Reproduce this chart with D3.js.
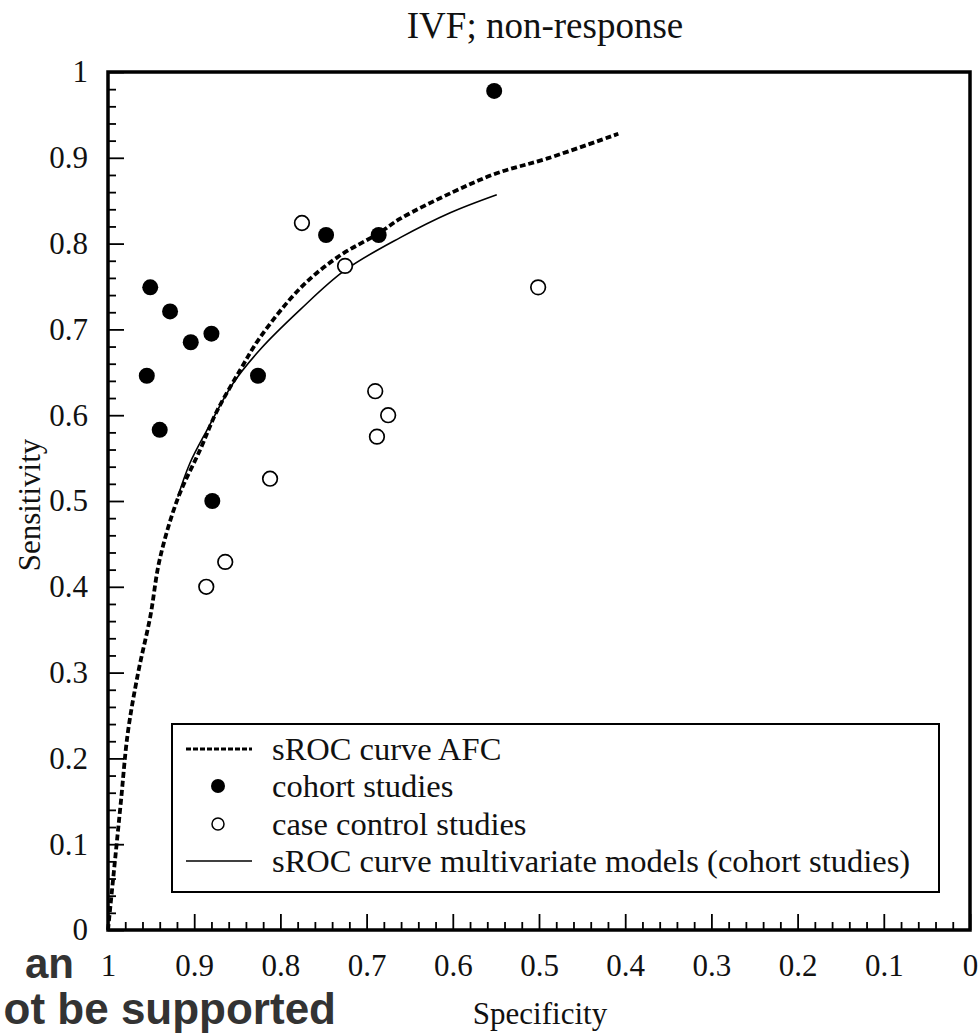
<!DOCTYPE html>
<html><head><meta charset="utf-8">
<script src="https://cdn.jsdelivr.net/npm/d3@7"></script>
<style>html,body{margin:0;padding:0;background:#fff;}svg{display:block;}</style>
</head><body>
<svg id="c" width="979" height="1035"></svg>
<script>
// ---- data ----
const majorTicks = [0, 0.1, 0.2, 0.3, 0.4, 0.5, 0.6, 0.7, 0.8, 0.9, 1];
const tickLabels = ["0", "0.1", "0.2", "0.3", "0.4", "0.5", "0.6", "0.7", "0.8", "0.9", "1"];
const minorTicks = [0.02,0.04,0.06,0.08,0.12,0.14,0.16,0.18,0.22,0.24,0.26,0.28,0.32,0.34,0.36,0.38,0.42,0.44,0.46,0.48,0.52,0.54,0.56,0.58,0.62,0.64,0.66,0.68,0.72,0.74,0.76,0.78,0.82,0.84,0.86,0.88,0.92,0.94,0.96,0.98];

const cohortSpec = [0.552, 0.747, 0.686, 0.951, 0.928, 0.904, 0.880, 0.955, 0.826, 0.940, 0.879];
const cohortSens = [0.978, 0.810, 0.810, 0.749, 0.721, 0.685, 0.695, 0.646, 0.646, 0.583, 0.500];

const caseSpec = [0.775, 0.725, 0.690, 0.675, 0.688, 0.501, 0.812, 0.864, 0.886];
const caseSens = [0.824, 0.774, 0.628, 0.600, 0.575, 0.749, 0.526, 0.429, 0.400];

const afcSpec = [1.000, 0.997, 0.991, 0.985, 0.977, 0.965, 0.951, 0.940, 0.919, 0.893, 0.874, 0.847, 0.824, 0.777, 0.734, 0.686, 0.661, 0.600, 0.549, 0.491, 0.408];
const afcSens = [0.000, 0.030, 0.090, 0.150, 0.230, 0.300, 0.365, 0.432, 0.503, 0.560, 0.604, 0.652, 0.690, 0.748, 0.784, 0.812, 0.829, 0.860, 0.882, 0.899, 0.928];

const mvSpec = [0.919, 0.905, 0.885, 0.855, 0.824, 0.777, 0.725, 0.661, 0.603, 0.549];
const mvSens = [0.505, 0.544, 0.583, 0.637, 0.676, 0.723, 0.769, 0.807, 0.836, 0.857];

const legendLabels = ["sROC curve AFC", "cohort studies", "case control studies", "sROC curve multivariate models (cohort studies)"];
const titleText = "IVF; non-response";
const xTitle = "Specificity";
const yTitle = "Sensitivity";
const overlayText = ["an", "ot be supported"];

// ---- layout ----
const svg = d3.select("#c");
const L = 108, R = 970, T = 72, B = 930;
const x = d3.scaleLinear().domain([1, 0]).range([L, R]);
const y = d3.scaleLinear().domain([0, 1]).range([B, T]);
const serif = "'Liberation Serif', 'Times New Roman', serif";

const fmt = v => tickLabels[majorTicks.indexOf(v)];

// y axis
const gy = svg.append("g").attr("transform", `translate(${L},0)`);
gy.call(d3.axisLeft(y).tickValues(majorTicks).tickSize(-16).tickPadding(20).tickFormat(fmt));
const gym = svg.append("g").attr("transform", `translate(${L},0)`);
gym.call(d3.axisLeft(y).tickValues(minorTicks).tickSize(-8).tickFormat(""));
// x axis
const gx = svg.append("g").attr("transform", `translate(0,${B})`);
gx.call(d3.axisBottom(x).tickValues(majorTicks).tickSize(-16).tickPadding(24).tickFormat(fmt));
const gxm = svg.append("g").attr("transform", `translate(0,${B})`);
gxm.call(d3.axisBottom(x).tickValues(minorTicks).tickSize(-8).tickFormat(""));

[gy, gym, gx, gxm].forEach(g => {
  g.select(".domain").remove();
  g.selectAll(".tick line").attr("stroke", "#000").attr("stroke-width", 1.8);
  g.selectAll(".tick text").attr("font-family", serif).attr("font-size", 31).attr("fill", "#111");
});

// curves
const line = d3.line().x(d => x(d[0])).y(d => y(d[1])).curve(d3.curveCatmullRom);
const afc = afcSpec.map((s, i) => [s, afcSens[i]]);
const mv = mvSpec.map((s, i) => [s, mvSens[i]]);

svg.append("path").attr("d", line(afc)).attr("fill", "none").attr("stroke", "#000")
  .attr("stroke-width", 3.8).attr("stroke-dasharray", "6,3");
svg.append("path").attr("d", line(mv)).attr("fill", "none").attr("stroke", "#000")
  .attr("stroke-width", 1.6);

// points
svg.append("g").selectAll("circle").data(caseSpec.map((s, i) => [s, caseSens[i]])).join("circle")
  .attr("cx", d => x(d[0])).attr("cy", d => y(d[1])).attr("r", 7.3)
  .attr("fill", "#fff").attr("stroke", "#000").attr("stroke-width", 1.7);
svg.append("g").selectAll("circle").data(cohortSpec.map((s, i) => [s, cohortSens[i]])).join("circle")
  .attr("cx", d => x(d[0])).attr("cy", d => y(d[1])).attr("r", 8)
  .attr("fill", "#000");

// frame
svg.append("rect").attr("x", L).attr("y", T).attr("width", R - L).attr("height", B - T)
  .attr("fill", "none").attr("stroke", "#000").attr("stroke-width", 3.5);

// legend
const lg = svg.append("g");
lg.append("rect").attr("x", 172).attr("y", 724).attr("width", 767).attr("height", 168)
  .attr("fill", "#fff").attr("stroke", "#000").attr("stroke-width", 2);
const rowY = [749, 786, 824, 861];
lg.append("line").attr("x1", 186).attr("x2", 252).attr("y1", rowY[0]).attr("y2", rowY[0])
  .attr("stroke", "#000").attr("stroke-width", 3).attr("stroke-dasharray", "5,2");
lg.append("circle").attr("cx", 218).attr("cy", rowY[1]).attr("r", 7).attr("fill", "#000");
lg.append("circle").attr("cx", 218).attr("cy", rowY[2]).attr("r", 6).attr("fill", "#fff").attr("stroke", "#000").attr("stroke-width", 1.5);
lg.append("line").attr("x1", 186).attr("x2", 252).attr("y1", rowY[3]).attr("y2", rowY[3])
  .attr("stroke", "#000").attr("stroke-width", 1.5);
lg.selectAll("text").data(legendLabels).join("text")
  .attr("x", 272).attr("y", (d, i) => rowY[i] + 11)
  .attr("font-family", serif).attr("font-size", 32.5).attr("fill", "#111").text(d => d);

// titles
svg.append("text").attr("x", 545).attr("y", 38).attr("text-anchor", "middle")
  .attr("font-family", serif).attr("font-size", 37).attr("fill", "#111").text(titleText);
svg.append("text").attr("x", 540).attr("y", 1024).attr("text-anchor", "middle")
  .attr("font-family", serif).attr("font-size", 31).attr("fill", "#111").text(xTitle);
svg.append("text").attr("transform", "translate(40,505) rotate(-90)").attr("text-anchor", "middle")
  .attr("font-family", serif).attr("font-size", 31).attr("fill", "#111").text(yTitle);

// overlay fragment text
const sans = "'Liberation Sans', Arial, sans-serif";
svg.append("text").attr("x", 74).attr("y", 978).attr("text-anchor", "end")
  .attr("font-family", sans).attr("font-weight", "bold").attr("font-size", 42).attr("fill", "#333").text(overlayText[0]);
svg.append("text").attr("x", 336).attr("y", 1024).attr("text-anchor", "end")
  .attr("font-family", sans).attr("font-weight", "bold").attr("font-size", 44).attr("fill", "#333").text(overlayText[1]);
</script>
</body></html>
